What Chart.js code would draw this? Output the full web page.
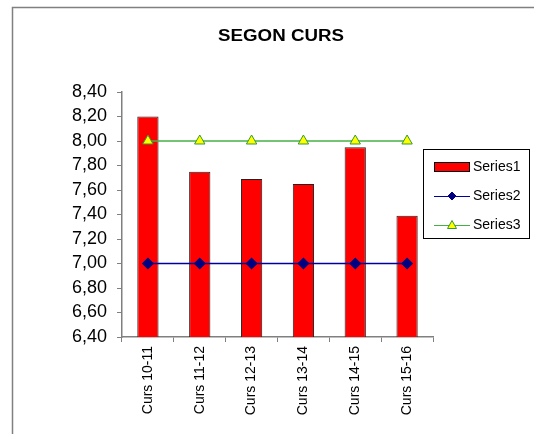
<!DOCTYPE html>
<html>
<head>
<meta charset="utf-8">
<script src="https://cdn.jsdelivr.net/npm/chart.js@4"></script>
<style>
    html, body { margin: 0; padding: 0; background: #fff; }
    canvas { display: block; }
</style>
</head>
<body>
<canvas id="cursChart" width="534" height="434"></canvas>
<script>
// Data
const cursos = ['Curs 10-11', 'Curs 11-12', 'Curs 12-13', 'Curs 13-14', 'Curs 14-15', 'Curs 15-16'];
const series1 = [8.20, 7.75, 7.69, 7.65, 7.95, 7.39];
const series2 = [7.00, 7.00, 7.00, 7.00, 7.00, 7.00];
const series3 = [8.00, 8.00, 8.00, 8.00, 8.00, 8.00];
const chartTitle = 'SEGON CURS';

const FONT = '"Liberation Sans", Arial, sans-serif';
const AXIS_GRAY = '#808080';

// Frame, title and boxed legend (Excel style)
const excelDecor = {
    id: 'excelDecor',
    beforeDraw(chart) {
        const ctx = chart.ctx;
        ctx.save();
        ctx.strokeStyle = AXIS_GRAY;
        ctx.lineWidth = 1.5;
        ctx.beginPath();
        ctx.moveTo(12.5, chart.height);
        ctx.lineTo(12.5, 7.5);
        ctx.lineTo(chart.width, 7.5);
        ctx.stroke();

        // title is a bit wide in the original, stretch it horizontally
        ctx.fillStyle = '#000';
        ctx.font = 'bold 16px ' + FONT;
        ctx.textAlign = 'center';
        ctx.textBaseline = 'middle';
        ctx.translate(281, 37);
        ctx.scale(1.17, 1);
        ctx.fillText(chartTitle, 0, 0);
        ctx.restore();
    },
    afterDraw(chart) {
        const ctx = chart.ctx;
        const box = { x: 423.5, y: 149.5, w: 106, h: 89 };
        ctx.save();
        ctx.strokeStyle = '#000';
        ctx.lineWidth = 1;
        ctx.strokeRect(box.x, box.y, box.w, box.h);

        ctx.font = '14px ' + FONT;
        ctx.textBaseline = 'middle';
        ctx.textAlign = 'left';
        const rows = [167, 196, 225];
        chart.data.datasets.forEach((ds, i) => {
            const y = rows[i];
            if (ds.type === 'bar') {
                ctx.fillStyle = ds.backgroundColor;
                ctx.fillRect(434.5, y - 4.5, 35, 9);
                ctx.strokeStyle = '#000';
                ctx.strokeRect(434.5, y - 4.5, 35, 9);
            } else {
                ctx.strokeStyle = ds.borderColor;
                ctx.lineWidth = 1;
                ctx.beginPath();
                ctx.moveTo(434, y + 0.5);
                ctx.lineTo(470, y + 0.5);
                ctx.stroke();
                ctx.fillStyle = ds.pointBackgroundColor;
                ctx.strokeStyle = ds.pointBorderColor;
                ctx.beginPath();
                if (ds.pointStyle === 'rectRot') {
                    ctx.moveTo(452, y - 4);
                    ctx.lineTo(456, y);
                    ctx.lineTo(452, y + 4);
                    ctx.lineTo(448, y);
                } else {
                    ctx.moveTo(452, y - 4.5);
                    ctx.lineTo(456.5, y + 3.5);
                    ctx.lineTo(447.5, y + 3.5);
                }
                ctx.closePath();
                ctx.fill();
                ctx.stroke();
            }
            ctx.fillStyle = '#000';
            ctx.fillText(ds.label, 473, y);
        });
        ctx.restore();
    }
};

const cursChart = new Chart(document.getElementById('cursChart'), {
    data: {
        labels: cursos,
        datasets: [
            {
                type: 'bar',
                label: 'Series1',
                data: series1,
                backgroundColor: '#FF0000',
                borderColor: '#222',
                borderWidth: 1,
                barPercentage: 0.41,
                categoryPercentage: 1,
                order: 3
            },
            {
                type: 'line',
                label: 'Series2',
                data: series2,
                borderColor: '#0000A0',
                borderWidth: 1.5,
                pointStyle: 'rectRot',
                pointRadius: 5,
                pointBackgroundColor: '#000080',
                pointBorderColor: '#000080',
                order: 2
            },
            {
                type: 'line',
                label: 'Series3',
                data: series3,
                borderColor: '#44B044',
                borderWidth: 1.5,
                pointStyle: 'triangle',
                pointRadius: 6,
                pointBackgroundColor: '#FFFF00',
                pointBorderColor: '#339933',
                pointBorderWidth: 1,
                order: 1
            }
        ]
    },
    options: {
        responsive: false,
        animation: false,
        layout: {
            padding: { left: 0, top: 92, right: 101, bottom: 0 }
        },
        plugins: {
            legend: { display: false },
            title: { display: false },
            tooltip: { enabled: false }
        },
        scales: {
            x: {
                offset: true,
                grid: {
                    offset: true,
                    drawOnChartArea: false,
                    drawTicks: true,
                    tickLength: 5,
                    color: AXIS_GRAY
                },
                border: { color: AXIS_GRAY, width: 1.5 },
                ticks: {
                    maxRotation: 90,
                    minRotation: 90,
                    autoSkip: false,
                    padding: 4,
                    color: '#000',
                    font: { family: FONT, size: 14 }
                },
                afterFit(scale) { scale.height = 97; }
            },
            y: {
                min: 6.4,
                max: 8.4,
                grid: {
                    drawOnChartArea: false,
                    drawTicks: true,
                    tickLength: 5,
                    color: AXIS_GRAY
                },
                border: { color: AXIS_GRAY, width: 1.5 },
                ticks: {
                    stepSize: 0.2,
                    autoSkip: false,
                    padding: 10,
                    color: '#000',
                    font: { family: FONT, size: 18 },
                    callback: v => v.toFixed(2).replace('.', ',')
                },
                afterFit(scale) { scale.width = 122; }
            }
        }
    },
    plugins: [excelDecor]
});
</script>
</body>
</html>
